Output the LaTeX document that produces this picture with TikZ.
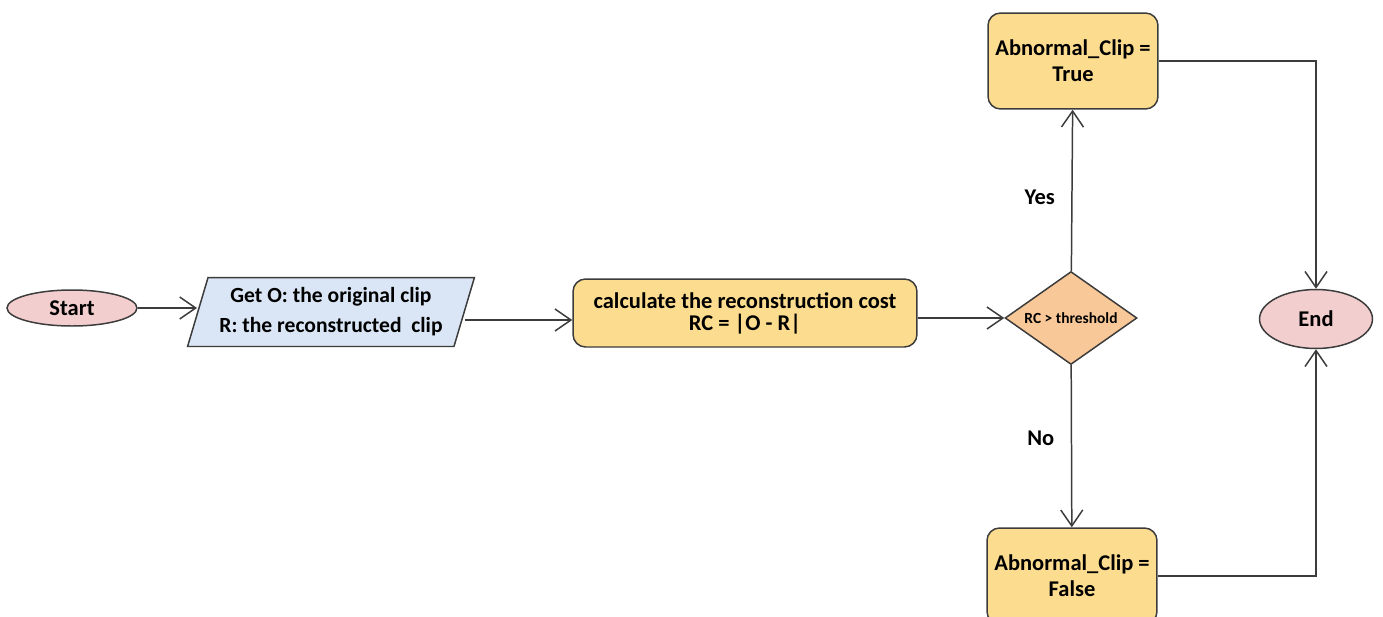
\documentclass[tikz,border=0pt]{standalone}
\usepackage{fontspec}
\setmainfont{Carlito}
\usepackage{tikz}
\usetikzlibrary{arrows.meta,shapes.geometric,positioning}
\definecolor{fcline}{RGB}{60,60,60}
\definecolor{fcpink}{RGB}{243,206,206}
\definecolor{fcblue}{RGB}{218,230,245}
\definecolor{fcyellow}{RGB}{252,220,143}
\definecolor{fcorange}{RGB}{249,200,152}
\tikzstyle{arrow} = [line width=0.85pt, draw=fcline, -{Straight Barb[length=3.2mm,width=4.4mm]}]
\tikzstyle{line} = [line width=0.85pt, draw=fcline]
\tikzstyle{terminal} = [ellipse, draw=fcline, fill=fcpink, line width=0.85pt, inner sep=0pt, font=\bfseries\fontsize{12.8}{15}\selectfont]
\tikzstyle{iobox} = [trapezium, trapezium left angle=69, trapezium right angle=111, trapezium stretches=true, draw=fcline, fill=fcblue, line width=0.85pt, inner sep=0pt, align=center, font=\bfseries\fontsize{12.3}{17}\selectfont]
\tikzstyle{procbox} = [rectangle, rounded corners=2.5mm, draw=fcline, fill=fcyellow, line width=0.85pt, inner sep=0pt, align=center, font=\bfseries\fontsize{12.8}{15}\selectfont]
\tikzstyle{decision} = [diamond, aspect=1.4, draw=fcline, fill=fcorange, line width=0.85pt, inner sep=0pt, font=\bfseries\fontsize{8.8}{10}\selectfont]
\tikzstyle{lbl} = [font=\bfseries\fontsize{12.8}{15}\selectfont]

\begin{document}
\begin{tikzpicture}[x=0.02cm, y=-0.02cm]
\useasboundingbox (0,0) rectangle (1383,616);

% Start and input
\node[terminal, minimum width=2.6cm, minimum height=0.72cm] (start) at (72,308) {Start};
\node[iobox, minimum width=5.74cm, minimum height=1.38cm] (input) at (331,312) {Get O: the original clip\\R: the reconstructed\ \ clip};

% Cost
\node[procbox, minimum width=6.88cm, minimum height=1.36cm, font=\bfseries\fontsize{12.8}{12.5}\selectfont] (cost) at (745,313) {calculate the reconstruction cost\\RC = |O - R|};

% Decision
\node[decision, minimum width=2.64cm, minimum height=1.86cm] (check) at (1071,318) {RC > threshold};

% Results
\node[procbox, minimum width=3.4cm, minimum height=1.92cm] (isabn) at (1073,61) {Abnormal\_Clip =\\True};
\node[procbox, minimum width=3.4cm, minimum height=1.92cm] (notabn) at (1072,576) {Abnormal\_Clip =\\False};

% End
\node[terminal, minimum width=2.26cm, minimum height=1.18cm] (finish) at (1316,319) {End};

% Connections
\coordinate (row) at (0,320);
\draw[arrow] (start) -- (start -| input.west);
\draw[arrow] (input.east |- row) -- (cost.west |- row);
\draw[arrow] (cost.east |- check) -- (check);
\draw[arrow] (check) -- node[lbl, left=6pt, pos=0.46] {Yes} (isabn);
\draw[arrow] (check) -- node[lbl, left=6pt, pos=0.45] {No} (notabn);
\draw[arrow] (isabn.east) -| (finish.north);
\draw[arrow] (notabn.east) -| (finish.south);
\end{tikzpicture}
\end{document}
